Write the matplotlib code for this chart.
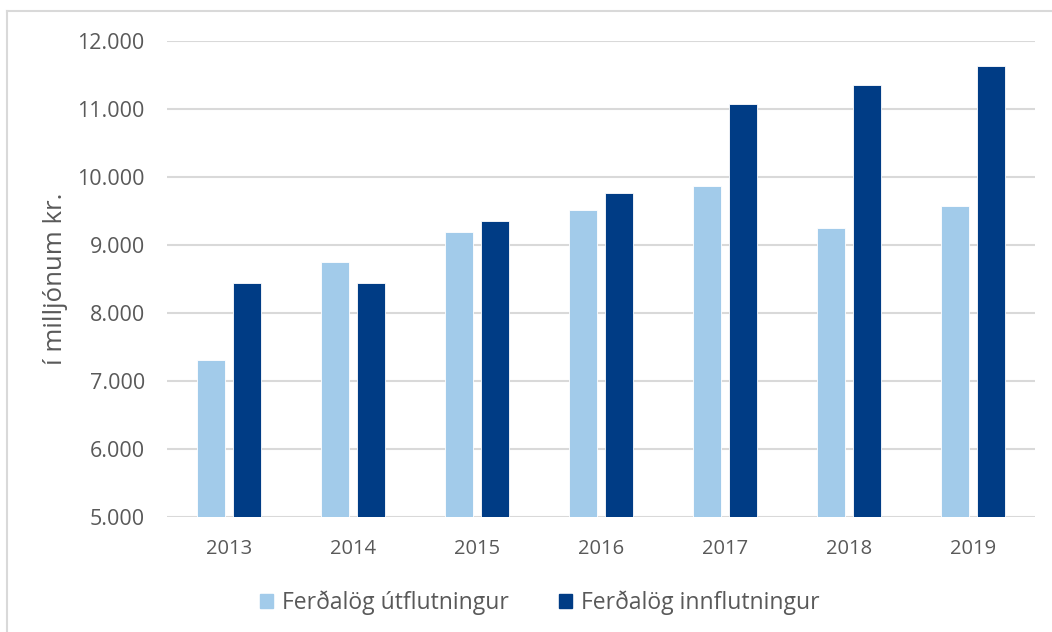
import matplotlib
matplotlib.use("Agg")
import matplotlib.pyplot as plt
import numpy as np
from matplotlib.lines import Line2D

years = ["2013", "2014", "2015", "2016", "2017", "2018", "2019"]
utflutningur = [7315, 8750, 9195, 9510, 9870, 9250, 9578]
innflutningur = [8447, 8447, 9355, 9768, 11068, 11349, 11628]
series_names = ["Ferðalög útflutningur", "Ferðalög innflutningur"]
yticks = [5000, 6000, 7000, 8000, 9000, 10000, 11000, 12000]
ytick_labels = ["5.000", "6.000", "7.000", "8.000", "9.000", "10.000", "11.000", "12.000"]

light = "#A2CBEA"
dark = "#003C85"
txt = "#595959"
plt.rcParams['font.family'] = ['Open Sans', 'DejaVu Sans']

fig = plt.figure(figsize=(10.52, 6.32), dpi=100)
ax = fig.add_axes([167/1052, (632-517)/632, (1035-167)/1052, (517-41)/632])

x = np.arange(len(years))
w = 0.226
off = (w + 0.065) / 2
ax.bar(x - off, utflutningur, width=w, color=light, edgecolor="white", linewidth=0.6, zorder=3, label=series_names[0])
ax.bar(x + off, innflutningur, width=w, color=dark, edgecolor="white", linewidth=0.6, zorder=3, label=series_names[1])

ax.set_xlim(-0.5, len(years) - 0.5)
ax.set_ylim(5000, 12000)
ax.set_yticks(yticks)
ax.set_yticklabels(ytick_labels)
ax.set_xticks(x)
ax.set_xticklabels(years)
ax.yaxis.grid(True, color="#D9D9D9", linewidth=1.5, zorder=0)
ax.set_axisbelow(True)
for s in ax.spines.values():
    s.set_visible(False)
ax.tick_params(axis="both", length=0, labelcolor=txt)
ax.tick_params(axis="y", pad=16, labelsize=15.5)
ax.tick_params(axis="x", pad=16, labelsize=14.5)
ax.set_ylabel("í milljónum kr.", fontsize=18.5, color=txt, labelpad=7)

handles = [plt.Rectangle((0, 0), 1, 1, color=light), plt.Rectangle((0, 0), 1, 1, color=dark)]
fig.legend(handles, series_names, loc="center", bbox_to_anchor=(540/1052, 1 - 603/632), ncol=2,
           frameon=False, fontsize=16.5, labelcolor=txt, handlelength=0.55, handleheight=0.55,
           handletextpad=0.4, columnspacing=2.2)

# chart border (top and left visible)
fig.add_artist(Line2D([7/1052, 1], [1 - 10.5/632, 1 - 10.5/632], color="#D9D9D9", linewidth=1.5))
fig.add_artist(Line2D([7/1052, 7/1052], [0, 1 - 10.5/632], color="#D9D9D9", linewidth=1.5))

fig.savefig("out.png", dpi=100)
